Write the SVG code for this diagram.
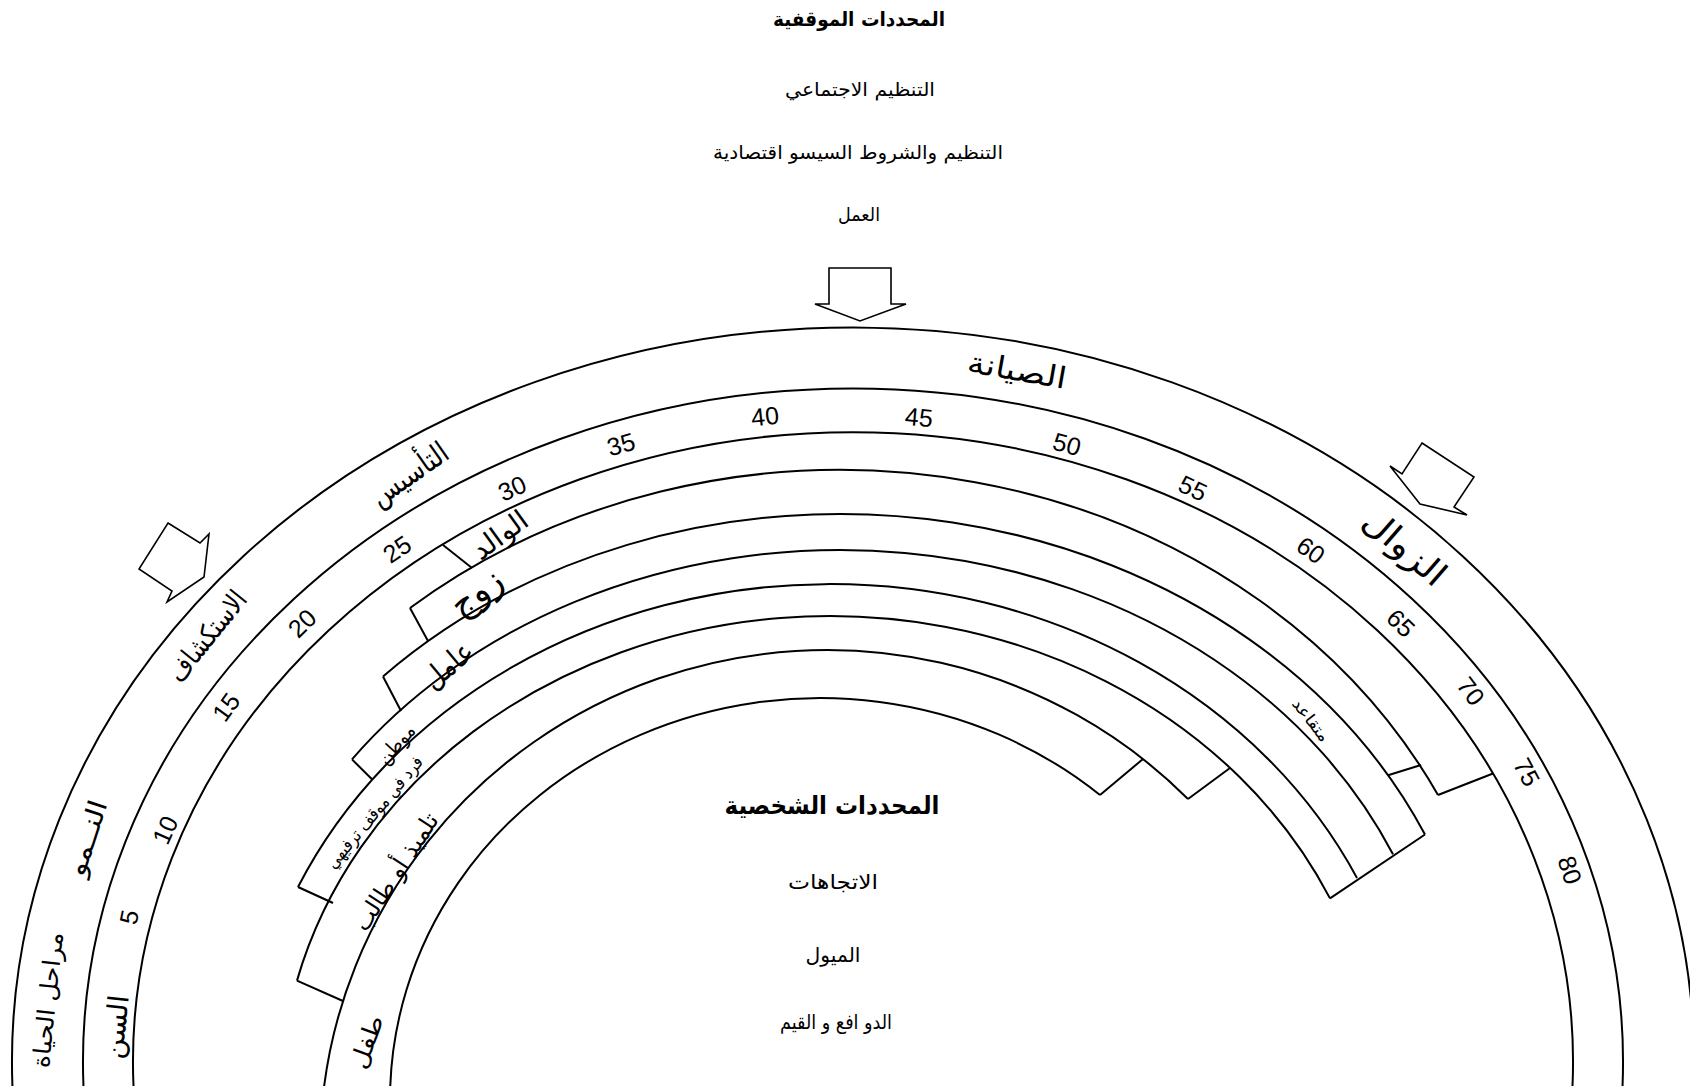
<svg xmlns="http://www.w3.org/2000/svg" width="1690" height="1086" viewBox="0 0 1690 1086">
<style>
.arc{fill:none;stroke:#000;stroke-width:2}
.tick{stroke:#000;stroke-width:2;fill:none}
.arrow{fill:#fff;stroke:#000;stroke-width:1.6;stroke-linejoin:miter}
.ar{font-family:'DejaVu Sans',sans-serif;fill:#000;text-anchor:middle;dominant-baseline:central}
.num{font-family:'Liberation Sans',Arial,sans-serif;font-size:25px;fill:#000;text-anchor:middle;dominant-baseline:central}
.b{font-weight:bold}
</style>
<rect width="1690" height="1086" fill="#fff"/>
<g id="connectors">
<polygon class="arrow" points="829,268 891,268 891,304 906,304 860,321 815,304 829,304"/>
<polygon class="arrow" points="168,523 200,543 209,534 204,577 167,602 172,591 139,569"/>
<polygon class="arrow" points="1422,443 1474,477 1454,507 1467,515 1420,504 1390,466 1402,474"/>
</g>
<g id="rings">
<path class="arc" d="M 13.1 1100 A 841 735 0 1 1 1692.9 1100"/>
<path class="arc" d="M 84.2 1100 A 770 674 0 1 1 1621.8 1100"/>
<path class="arc" d="M 134.3 1100 A 720 630 0 1 1 1571.7 1100"/>
<path class="arc" d="M 410 608 A 670 592 0 0 1 1438 795"/>
<path class="arc" d="M 383 676.5 A 643 548 0 0 1 1425 834.5"/>
<path class="arc" d="M 352 759.4 A 605 512 0 0 1 1393 854.3"/>
<path class="arc" d="M 298 887 A 584 516 0 0 1 1357 878"/>
<path class="arc" d="M 297 980.6 A 550 484 0 0 1 1330 898.4"/>
<path class="arc" d="M 322.5 1100 A 507 500 0 0 1 1188 799"/>
<path class="arc" d="M 390 1100 A 430 402 0 0 1 1100 795"/>
</g>
<g id="ticks">
<line class="tick" x1="443" y1="545" x2="472" y2="568"/>
<line class="tick" x1="410" y1="608" x2="428" y2="641"/>
<line class="tick" x1="383" y1="676.5" x2="401" y2="711"/>
<line class="tick" x1="352" y1="759.4" x2="372" y2="779.3"/>
<line class="tick" x1="298" y1="887" x2="333" y2="903"/>
<line class="tick" x1="297" y1="980.6" x2="343" y2="1001"/>
<line class="tick" x1="1438" y1="795" x2="1493" y2="773.5"/>
<line class="tick" x1="1388" y1="775.3" x2="1421" y2="765"/>
<line class="tick" x1="1330" y1="898.4" x2="1425" y2="834.5"/>
<line class="tick" x1="1188" y1="799" x2="1230" y2="768"/>
<line class="tick" x1="1100" y1="795" x2="1143" y2="759"/>
</g>
<g id="situational-determinants">
<text class="ar b" x="859" y="19" font-size="20" textLength="172" lengthAdjust="spacingAndGlyphs">المحددات الموقفية</text>
<text class="ar" x="860" y="89" font-size="19" textLength="150" lengthAdjust="spacingAndGlyphs">التنظيم الاجتماعي</text>
<text class="ar" x="858" y="152" font-size="19" textLength="290" lengthAdjust="spacingAndGlyphs">التنظيم والشروط السيسو اقتصادية</text>
<text class="ar" x="859" y="214" font-size="19" textLength="42" lengthAdjust="spacingAndGlyphs">العمل</text>
</g>
<g id="personal-determinants">
<text class="ar b" x="832" y="805" font-size="25" textLength="215" lengthAdjust="spacingAndGlyphs">المحددات الشخصية</text>
<text class="ar" x="833" y="882" font-size="20" textLength="90" lengthAdjust="spacingAndGlyphs">الاتجاهات</text>
<text class="ar" x="833" y="955" font-size="20" textLength="55" lengthAdjust="spacingAndGlyphs">الميول</text>
<text class="ar" x="836" y="1022" font-size="20" textLength="112" lengthAdjust="spacingAndGlyphs">الدو افع و القيم</text>
</g>
<g id="life-stages">
<text class="ar" transform="translate(1017,370) rotate(10)" font-size="30" textLength="100" lengthAdjust="spacingAndGlyphs">الصيانة</text>
<text class="ar" transform="translate(409,474) rotate(-35)" font-size="30" textLength="88" lengthAdjust="spacingAndGlyphs">التأسيس</text>
<text class="ar" transform="translate(207,636) rotate(-51)" font-size="28" textLength="108" lengthAdjust="spacingAndGlyphs">الاستكشاف</text>
<text class="ar" transform="translate(87,838) rotate(-72)" font-size="26" textLength="78" lengthAdjust="spacingAndGlyphs">النــمو</text>
<text class="ar" transform="translate(48,1000) rotate(-84)" font-size="24" textLength="136" lengthAdjust="spacingAndGlyphs">مراحل الحياة</text>
<text class="ar" transform="translate(1405,547) rotate(41)" font-size="34" textLength="98" lengthAdjust="spacingAndGlyphs">الزوال</text>
<text class="ar" transform="translate(116,1027) rotate(-84)" font-size="28" textLength="64" lengthAdjust="spacingAndGlyphs">السن</text>
</g>
<g id="ages">
<text class="num" transform="translate(129,917) rotate(-78)">5</text>
<text class="num" transform="translate(165,830) rotate(-66)">10</text>
<text class="num" transform="translate(226,707) rotate(-54)">15</text>
<text class="num" transform="translate(302,623) rotate(-44)">20</text>
<text class="num" transform="translate(397,549) rotate(-34)">25</text>
<text class="num" transform="translate(512,488) rotate(-24)">30</text>
<text class="num" transform="translate(621,444) rotate(-16)">35</text>
<text class="num" transform="translate(765,416) rotate(-6)">40</text>
<text class="num" transform="translate(919,417) rotate(5)">45</text>
<text class="num" transform="translate(1067,444) rotate(15)">50</text>
<text class="num" transform="translate(1193,488) rotate(25)">55</text>
<text class="num" transform="translate(1311,550) rotate(35)">60</text>
<text class="num" transform="translate(1401,623) rotate(44)">65</text>
<text class="num" transform="translate(1471,691) rotate(53)">70</text>
<text class="num" transform="translate(1527,772) rotate(62)">75</text>
<text class="num" transform="translate(1570,870) rotate(72)">80</text>
</g>
<g id="roles">
<text class="ar" transform="translate(500,535) rotate(-36)" font-size="28" textLength="62" lengthAdjust="spacingAndGlyphs">الوالد</text>
<text class="ar" transform="translate(476,592) rotate(-36)" font-size="36" textLength="56" lengthAdjust="spacingAndGlyphs">زوج</text>
<text class="ar" transform="translate(448,665) rotate(-40)" font-size="30" textLength="56" lengthAdjust="spacingAndGlyphs">عامل</text>
<text class="ar" transform="translate(396,744) rotate(-48)" font-size="20" textLength="46" lengthAdjust="spacingAndGlyphs">موطن</text>
<text class="ar" transform="translate(374,812) rotate(-50)" font-size="18" textLength="140" lengthAdjust="spacingAndGlyphs">فرد في موقف ترفيهي</text>
<text class="ar" transform="translate(396,872) rotate(-57)" font-size="24" textLength="135" lengthAdjust="spacingAndGlyphs">تلميذ أو طالب</text>
<text class="ar" transform="translate(367,1042) rotate(-70)" font-size="24" textLength="55" lengthAdjust="spacingAndGlyphs">طفل</text>
<text class="ar" transform="translate(1311,720) rotate(52)" font-size="16" textLength="50" lengthAdjust="spacingAndGlyphs">متقاعد</text>
</g>
</svg>
